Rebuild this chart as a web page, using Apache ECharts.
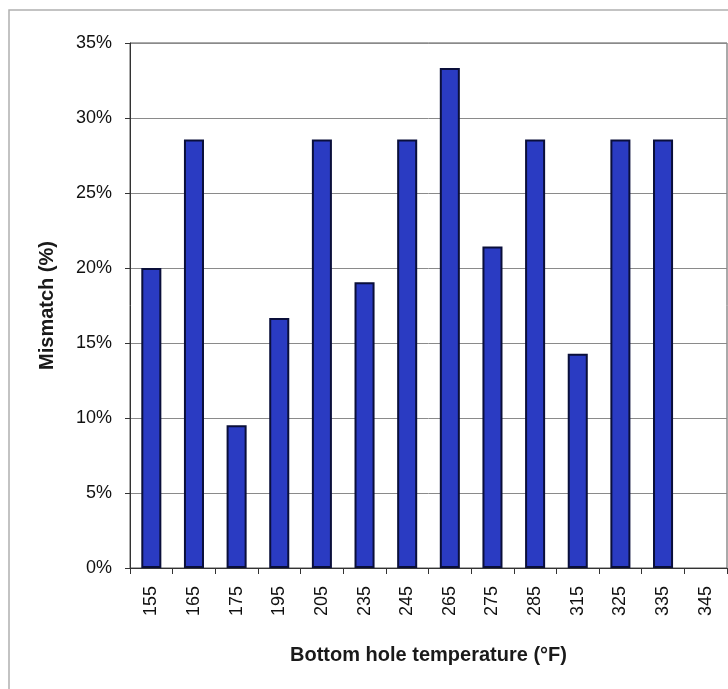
<!DOCTYPE html>
<html>
<head>
<meta charset="utf-8">
<script src="https://cdn.jsdelivr.net/npm/echarts@6/dist/echarts.min.js"></script>
<style>
  html, body { margin: 0; padding: 0; background: #fff; }
  #chart { width: 728px; height: 689px; }
</style>
</head>
<body>
<div id="chart"></div>
<script>
// bottom hole temperature (F)
const temps = ['155', '165', '175', '195', '205', '235', '245', '265', '275', '285', '315', '325', '335', '345'];
// mismatch in %
const mismatch = [20.0, 28.57, 9.52, 16.67, 28.57, 19.05, 28.57, 33.33, 21.43, 28.57, 14.29, 28.57, 28.57, 0];
const yTicks = [0, 5, 10, 15, 20, 25, 30, 35];

const chart = echarts.init(document.getElementById('chart'));

// zero bars are not drawn at all in the original, so drop their outline
const barData = mismatch.map(v => v === 0 ? { value: v, itemStyle: { borderWidth: 0 } } : v);

chart.setOption({
    backgroundColor: '#fff',
    textStyle: { fontFamily: 'Liberation Sans, Arial, sans-serif' },
    graphic: [{
        // outer chart frame, runs off the right and bottom of the picture
        type: 'rect',
        shape: { x: 9, y: 10, width: 740, height: 700 },
        style: { fill: 'none', stroke: '#b0b0b0', lineWidth: 1.5 },
        silent: true
    }],
    grid: {
        left: 130,
        right: 1,
        top: 43,
        bottom: 121,
        show: true,
        borderColor: '#555',
        borderWidth: 1
    },
    xAxis: {
        type: 'category',
        data: temps,
        name: 'Bottom hole temperature (°F)',
        nameLocation: 'middle',
        nameGap: 77,
        nameTextStyle: {
            color: '#1a1a1a',
            fontSize: 20,
            fontWeight: 'bold'
        },
        axisLine: { lineStyle: { color: '#333', width: 1 } },
        axisTick: { show: true, length: 6, lineStyle: { color: '#333' } },
        axisLabel: {
            rotate: 90,
            color: '#111',
            fontSize: 18,
            margin: 18
        }
    },
    yAxis: {
        type: 'value',
        min: 0,
        max: 35,
        interval: 5,
        name: 'Mismatch (%)',
        nameLocation: 'middle',
        nameGap: 73,
        nameTextStyle: { color: '#1a1a1a', fontSize: 20, fontWeight: 'bold' },
        axisLine: { show: true, lineStyle: { color: '#333', width: 1 } },
        axisTick: { show: true, length: 5, lineStyle: { color: '#333' } },
        axisLabel: {
            color: '#111',
            fontSize: 18,
            margin: 18,
            formatter: v => (yTicks.indexOf(v) >= 0 ? v + '%' : '')
        },
        splitLine: { show: true, lineStyle: { color: '#8a8a8a', width: 1 } }
    },
    series: [{
        type: 'bar',
        data: barData,
        barWidth: '47%',
        itemStyle: {
            color: '#2a3bc2',
            borderColor: '#0a0f3a',
            borderWidth: 2
        },
        silent: true
    }]
});
</script>
</body>
</html>
